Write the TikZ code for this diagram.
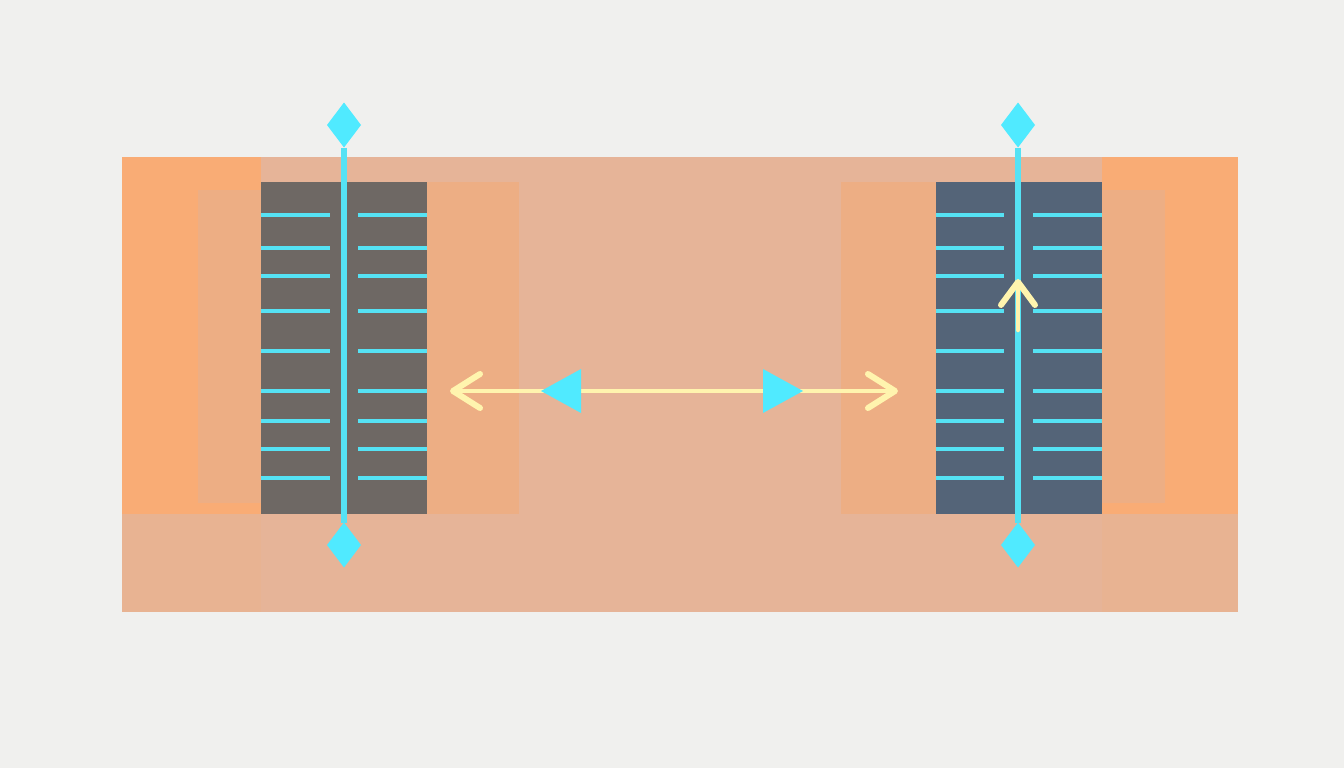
\documentclass[tikz,border=0pt]{standalone}
\usepackage{tikz}
\usetikzlibrary{shapes.geometric,arrows.meta}

\definecolor{paper}{HTML}{F0F0EE}
\definecolor{band}{HTML}{E6B498}
\definecolor{bandlow}{HTML}{E8B392}
\definecolor{orangeout}{HTML}{F9AC75}
\definecolor{orangein}{HTML}{EDAE84}
\definecolor{coregrey}{HTML}{6E6864}
\definecolor{coreblue}{HTML}{546478}
\definecolor{cyanline}{HTML}{55E2F4}
\definecolor{cyanmark}{HTML}{50EAFF}
\definecolor{lemon}{HTML}{FFF4AE}

\tikzset{
  endmark/.style={diamond,fill=cyanmark,inner sep=0pt,outer sep=0pt,minimum width=34pt,minimum height=45pt},
  wedge/.style={isosceles triangle,isosceles triangle apex angle=58,isosceles triangle stretches,fill=cyanmark,inner sep=0pt,outer sep=0pt,minimum width=44pt,minimum height=40pt},
  spine/.style={draw=cyanline,line width=5.5pt},
  rung/.style={draw=cyanline,line width=4pt},
  flow/.style={draw=lemon,line width=4.5pt,line cap=round,line join=round,{Straight Barb[round,length=27pt,width=34pt,line width=6pt]}-{Straight Barb[round,length=27pt,width=34pt,line width=6pt]}},
  rise/.style={draw=lemon,line width=4.5pt,line cap=round,-{Straight Barb[round,length=23pt,width=34pt,line width=6pt]}}
}

\begin{document}
\begin{tikzpicture}[x=1pt,y=-1pt]
  \fill[paper] (0,0) rectangle (1344,768);
  % lower band and sides
  \fill[band] (122,157) rectangle (1238,612);
  \fill[bandlow] (122,514) rectangle (261,612);
  \fill[bandlow] (1102,514) rectangle (1238,612);
  \fill[orangeout] (122,157) rectangle (261,514);
  \fill[orangeout] (1102,157) rectangle (1238,514);
  \fill[orangein] (198,190) rectangle (261,503);
  \fill[orangein] (1102,190) rectangle (1165,503);
  \fill[orangein] (427,182) rectangle (519,514);
  \fill[orangein] (841,182) rectangle (936,514);
  % the two cores
  \fill[coregrey] (261,182) rectangle (427,514);
  \fill[coreblue] (936,182) rectangle (1102,514);
  \foreach \y in {215,248,276,311,351,391,421,449,478} {
    \draw[rung] (261,\y) -- (330,\y);
    \draw[rung] (358,\y) -- (427,\y);
    \draw[rung] (936,\y) -- (1004,\y);
    \draw[rung] (1033,\y) -- (1102,\y);
  }
  \node[endmark] (ltop) at (344,125) {};
  \node[endmark] (lbot) at (344,545) {};
  \node[endmark] (rtop) at (1018,125) {};
  \node[endmark] (rbot) at (1018,545) {};
  \draw[spine] (ltop) -- (lbot);
  \draw[spine] (rtop) -- (rbot);
  % yellow arrows
  \coordinate (lend) at (450,391);
  \coordinate (rend) at (898,391);
  \coordinate (risefoot) at (1018,330);
  \coordinate (risetip) at (1018,279);
  \draw[flow] (lend) -- (rend);
  \draw[rise] (risefoot) -- (risetip);
  \node[wedge,shape border rotate=180] (lwedge) at (568,391) {};
  \node[wedge] (rwedge) at (776,391) {};
\end{tikzpicture}
\end{document}
